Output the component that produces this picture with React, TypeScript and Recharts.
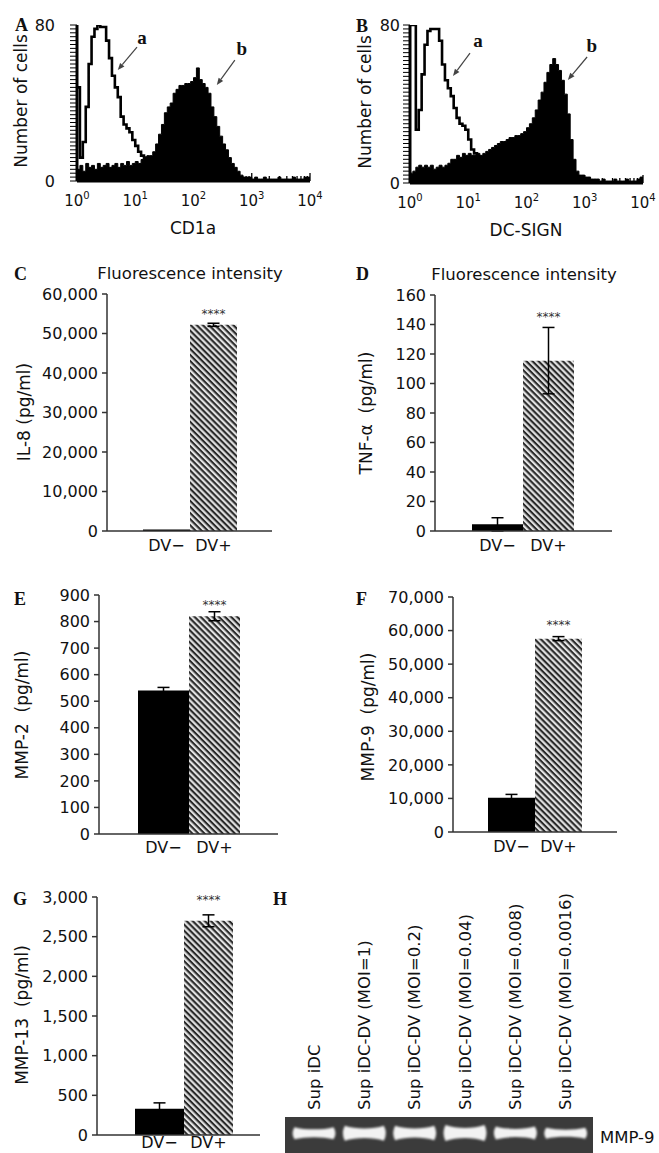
import React from 'react';
import {
  ComposedChart, BarChart, Bar, Cell, XAxis, YAxis, Area, Line, ErrorBar,
  ReferenceLine, ReferenceDot, CartesianGrid,
} from 'recharts';

const SANS = '"DejaVu Sans", Verdana, sans-serif';
const SERIF = '"Liberation Serif", "DejaVu Serif", serif';

// ---------- Histograms (A, B): channel = log10(fluorescence) ----------
const channelExp = [0, 0.05, 0.1, 0.15, 0.2, 0.25, 0.3, 0.35, 0.4, 0.45,
  0.5, 0.55, 0.6, 0.65, 0.7, 0.75, 0.8, 0.85, 0.9, 0.95,
  1, 1.05, 1.1, 1.15, 1.2, 1.25, 1.3, 1.35, 1.4, 1.45,
  1.5, 1.55, 1.6, 1.65, 1.7, 1.75, 1.8, 1.85, 1.9, 1.95,
  2, 2.05, 2.1, 2.15, 2.2, 2.25, 2.3, 2.35, 2.4, 2.45,
  2.5, 2.55, 2.6, 2.65, 2.7, 2.75, 2.8, 2.85, 2.9, 2.95,
  3, 3.05, 3.1, 3.15, 3.2, 3.25, 3.3, 3.35, 3.4, 3.45,
  3.5, 3.55, 3.6, 3.65, 3.7, 3.75, 3.8, 3.85, 3.9, 3.95, 4];

const cd1aIsotype = [48, 12, 20, 38, 60, 74, 78, 80, 79, 79,
  72, 63, 54, 48, 43, 33, 29, 27, 25, 21,
  18, 15, 13, 12, 10, 8, 7, 5, 4, 3,
  2, 1, 0, 0, 0, 0, 0, 0, 0, 0,
  0, 0, 0, 0, 0, 0, 0, 0, 0, 0,
  0, 0, 0, 0, 0, 0, 0, 0, 0, 0,
  0, 0, 0, 0, 0, 0, 0, 0, 0, 0,
  0, 0, 0, 0, 0, 0, 0, 0, 0, 0, 0];

const cd1aStained = [6, 8, 5, 9, 7, 8, 6, 9, 7, 8,
  9, 7, 8, 9, 7, 9, 8, 10, 8, 9,
  10, 9, 11, 12, 13, 13, 15, 19, 24, 29,
  35, 38, 40, 45, 47, 49, 49, 50, 50, 51,
  53, 58, 52, 50, 48, 45, 38, 33, 28, 23,
  19, 16, 12, 9, 7, 5, 3, 2, 2, 2,
  1, 2, 1, 1, 2, 1, 1, 1, 1, 2,
  1, 1, 1, 1, 2, 1, 1, 1, 2, 2, 1];

const dcsignIsotype = [80, 80, 27, 37, 55, 70, 77, 78, 78, 78,
  72, 60, 52, 48, 44, 38, 33, 30, 29, 27,
  22, 17, 15, 13, 10, 8, 6, 4, 3, 2,
  1, 0, 0, 0, 0, 0, 0, 0, 0, 0,
  0, 0, 0, 0, 0, 0, 0, 0, 0, 0,
  0, 0, 0, 0, 0, 0, 0, 0, 0, 0,
  0, 0, 0, 0, 0, 0, 0, 0, 0, 0,
  0, 0, 0, 0, 0, 0, 0, 0, 0, 0, 0];

const dcsignStained = [5, 6, 8, 9, 8, 9, 8, 9, 7, 8,
  9, 8, 9, 10, 12, 12, 14, 13, 15, 14,
  15, 14, 14, 15, 14, 15, 16, 17, 18, 19,
  20, 21, 21, 22, 23, 23, 24, 24, 25, 26,
  28, 30, 33, 37, 42, 46, 51, 56, 60, 63,
  60, 57, 52, 45, 35, 22, 12, 6, 4, 4,
  3, 3, 2, 2, 2, 1, 2, 1, 1, 1,
  2, 1, 1, 1, 2, 1, 1, 1, 2, 3, 3];

const countTicks = [0, 2, 4, 6, 8, 10, 12, 14, 16, 18, 20, 22, 24, 26, 28, 30, 32, 34, 36, 38, 40,
  42, 44, 46, 48, 50, 52, 54, 56, 58, 60, 62, 64, 66, 68, 70, 72, 74, 76, 78, 80];
const decadeExp = [0, 1, 2, 3, 4];
const minorLog = [0.301, 0.477, 0.602, 0.699, 0.778, 0.845, 0.903, 0.954];
const logTicks: number[] = [];
decadeExp.forEach((d) => {
  logTicks.push(d);
  if (d < 4) minorLog.forEach((m) => logTicks.push(d + m));
});

const cd1aMarks = [
  { label: 'a', text: [1.116, 73.8], from: [1.03, 68.7], to: [0.70, 56.9] },
  { label: 'b', text: [2.83, 67.7], from: [2.71, 62], to: [2.40, 49.2] },
];
const dcsignMarks = [
  { label: 'a', text: [1.167, 71.9], from: [1.03, 65.8], to: [0.738, 54.2] },
  { label: 'b', text: [3.12, 69.4], from: [3.04, 63.8], to: [2.71, 52.2] },
];

// ---------- Bar panels (C–G) ----------
const groups = ['DV\u2212', 'DV+'];
const il8 = [400, 52200];
const il8Err = [0, 400];
const il8Ticks = [0, 10000, 20000, 30000, 40000, 50000, 60000];
const tnf = [4.5, 115.5];
const tnfErr = [4.5, 22.5];
const tnfTicks = [0, 20, 40, 60, 80, 100, 120, 140, 160];
const mmp2 = [540, 820];
const mmp2Err = [12, 17];
const mmp2Ticks = [0, 100, 200, 300, 400, 500, 600, 700, 800, 900];
const mmp9 = [10200, 57600];
const mmp9Err = [1000, 600];
const mmp9Ticks = [0, 10000, 20000, 30000, 40000, 50000, 60000, 70000];
const mmp13 = [330, 2700];
const mmp13Err = [75, 75];
const mmp13Ticks = [0, 500, 1000, 1500, 2000, 2500, 3000];
const barFills = ['#000000', 'url(#hatch)'];

// ---------- Gel (H) ----------
const laneLabels = ['Sup iDC', 'Sup iDC-DV (MOI=1)', 'Sup iDC-DV (MOI=0.2)', 'Sup iDC-DV (MOI=0.04)',
  'Sup iDC-DV (MOI=0.008)', 'Sup iDC-DV (MOI=0.0016)'];
const bandLow = [15.5, 14.5, 15, 14.5, 15.5, 16];
const bandHigh = [24, 25, 25, 25.5, 24.5, 23.5];

// ---------- helpers ----------
const LogTick = (props: any) => {
  const { x, y, payload } = props;
  const v = payload.value;
  const major = Math.abs(v - Math.round(v)) < 1e-6;
  return (
    <g>
      <line x1={x} x2={x} y1={y} y2={y - (major ? 8 : 5)} stroke="#000" strokeWidth={1.3} />
      {major ? (
        <text x={x} y={y + 25} textAnchor="middle" fontSize={15} fontFamily={SANS} fill="#111">
          10<tspan dy={-7} fontSize={10}>{Math.round(v)}</tspan>
        </text>
      ) : null}
    </g>
  );
};

const CountTick = (props: any) => {
  const { x, y, payload } = props;
  if (payload.value !== 0 && payload.value !== 80) return <g />;
  return (
    <text x={x} y={y} textAnchor="end" dominantBaseline="central" fontSize={16} fontFamily={SANS} fill="#111">
      {payload.value}
    </text>
  );
};

const ArrowShape = (p: any) => {
  const { x1, y1, x2, y2 } = p;
  const ang = Math.atan2(y2 - y1, x2 - x1);
  const L = 7, W = 2.8;
  const bx = x2 - L * Math.cos(ang);
  const by = y2 - L * Math.sin(ang);
  const px = -Math.sin(ang) * W;
  const py = Math.cos(ang) * W;
  return (
    <g>
      <line x1={x1} y1={y1} x2={bx} y2={by} stroke="#444" strokeWidth={1.2} />
      <polygon points={`${x2},${y2} ${bx + px},${by + py} ${bx - px},${by - py}`} fill="#444" />
    </g>
  );
};

function Histogram({ box, plot, series, iso, marks, yMargin }: any) {
  const data = channelExp.map((e, i) => ({ e, a: iso[i], b: series[i] }));
  const xH = 20;
  const margin = { top: plot.t - box.y, left: 0, right: box.x + box.w - plot.r, bottom: box.y + box.h - plot.b - xH };
  return (
    <div style={{ position: 'absolute', left: box.x, top: box.y }}>
      <ComposedChart width={box.w} height={box.h} data={data} margin={margin}>
        <XAxis dataKey="e" type="number" domain={[0, 4]} ticks={logTicks} interval={0} allowDataOverflow
          height={xH} tickLine={false} tickSize={0} tickMargin={0}
          axisLine={{ stroke: '#000', strokeWidth: 3 }} tick={<LogTick />} />
        <YAxis type="number" domain={[0, 80]} ticks={countTicks} interval={0} allowDataOverflow
          width={plot.l - box.x} tickSize={7} tickMargin={yMargin}
          axisLine={{ stroke: '#000', strokeWidth: 3 }} tickLine={{ stroke: '#000', strokeWidth: 1 }}
          tick={<CountTick />} />
        <Area dataKey="b" type="stepAfter" stroke="#000" strokeWidth={1} fill="#000" fillOpacity={1}
          isAnimationActive={false} dot={false} activeDot={false} />
        <Line dataKey="a" type="stepAfter" stroke="#000" strokeWidth={2.6} dot={false} activeDot={false}
          isAnimationActive={false} />
        {marks.map((m: any) => (
          <ReferenceLine key={'l' + m.label}
            segment={[{ x: m.from[0], y: m.from[1] }, { x: m.to[0], y: m.to[1] }]}
            shape={ArrowShape} />
        ))}
        {marks.map((m: any) => (
          <ReferenceDot key={'t' + m.label} x={m.text[0]} y={m.text[1]} r={0}
            shape={(p: any) => (
              <text x={p.cx} y={p.cy} textAnchor="middle" dominantBaseline="central" fontSize={19}
                fontWeight="bold" fontFamily={SERIF} fill="#111">{m.label}</text>
            )} />
        ))}
      </ComposedChart>
    </div>
  );
}

const axisStyle = { stroke: '#333', strokeWidth: 1.5 };

function BarPanel({ box, plot, values, errs, ticks, pad, starGap, labelMargin }: any) {
  const data = groups.map((g, i) => ({ group: g, v: values[i], err: errs[i] }));
  const catH = 16;
  const xH = 1 + catH;
  const margin = { top: plot.t - box.y, left: 0, right: box.x + box.w - plot.r, bottom: box.y + box.h - plot.b - xH };
  return (
    <div style={{ position: 'absolute', left: box.x, top: box.y }}>
      <BarChart width={box.w} height={box.h} data={data} margin={margin} barCategoryGap={0} barGap={0}>
        <XAxis xAxisId="b" dataKey="group" type="category" height={catH}
          padding={{ left: pad[0], right: pad[1] }} axisLine={false} tickLine={false} tickSize={0}
          tickMargin={labelMargin} interval={0}
          tick={{ fontSize: 16, fill: '#111', fontFamily: SANS }} />
        <XAxis xAxisId="a" type="number" domain={[0, 1]} ticks={[0, 1]} tick={false} tickSize={6}
          height={1} axisLine={axisStyle} tickLine={axisStyle} allowDataOverflow />
        <YAxis type="number" domain={[0, ticks[ticks.length - 1]]} ticks={ticks} interval={0}
          allowDataOverflow width={plot.l - box.x} tickSize={5} tickMargin={4}
          axisLine={axisStyle} tickLine={axisStyle}
          tickFormatter={(v: number) => v.toLocaleString('en-US')}
          tick={{ fontSize: 16, fill: '#111', fontFamily: SANS }} />
        <Bar xAxisId="b" dataKey="v" isAnimationActive={false}>
          {data.map((d, i) => <Cell key={d.group} fill={barFills[i]} />)}
          <ErrorBar dataKey="err" width={6} stroke="#000" strokeWidth={1.5} direction="y" />
        </Bar>
        <ReferenceDot xAxisId="b" x={groups[1]} y={values[1] + errs[1]} r={0}
          shape={(p: any) => (
            <text x={p.cx} y={p.cy - starGap + 7} textAnchor="middle" fontSize={12} fill="#333"
              fontFamily={SANS}>****</text>
          )} />
      </BarChart>
    </div>
  );
}

const LaneTick = (props: any) => {
  const { x, y, payload } = props;
  return (
    <text x={x} y={y} transform={`rotate(-90 ${x} ${y})`} textAnchor="start" dominantBaseline="central"
      fontSize={16.5} fontFamily={SANS} fill="#111">{payload.value}</text>
  );
};

const GelBand = (p: any) => {
  const { x, y, width: w, height: h } = p;
  if (!isFinite(x) || !isFinite(y)) return <g />;
  const f = h * 0.22;
  const d = `M ${x + 3} ${y - f} C ${x + w * 0.3} ${y + f * 0.6} ${x + w * 0.7} ${y + f * 0.6} ${x + w - 3} ${y - f}
    Q ${x + w + 1} ${y + h / 2} ${x + w - 3} ${y + h + f}
    C ${x + w * 0.7} ${y + h - f * 0.6} ${x + w * 0.3} ${y + h - f * 0.6} ${x + 3} ${y + h + f}
    Q ${x - 1} ${y + h / 2} ${x + 3} ${y - f} Z`;
  return <path d={d} fill="#f2f2f2" filter="url(#soft)" />;
};

function Gel() {
  const box = { x: 270, y: 880, w: 389, h: 273 };
  const plot = { l: 285, r: 593, t: 1117, b: 1153 };
  const data = laneLabels.map((l, i) => ({ lane: l, band: [bandLow[i], bandHigh[i]] }));
  const xH = 30;
  const margin = { top: plot.t - box.y - xH, left: plot.l - box.x, right: box.x + box.w - plot.r, bottom: box.y + box.h - plot.b };
  return (
    <div style={{ position: 'absolute', left: box.x, top: box.y }}>
      <BarChart width={box.w} height={box.h} data={data} margin={margin} barCategoryGap="5%">
        <CartesianGrid horizontal={false} vertical={false} fill="#3b3b3b" />
        <XAxis dataKey="lane" type="category" orientation="top" height={xH} axisLine={false} tickLine={false}
          tickSize={0} tickMargin={7} interval={0} padding={{ left: 4, right: 2 }} tick={<LaneTick />} />
        <YAxis hide width={0} type="number" domain={[0, 36]} />
        <Bar dataKey="band" isAnimationActive={false} shape={GelBand} />
      </BarChart>
    </div>
  );
}

const panelLetters = [
  { t: 'A', x: 15, y: 31 }, { t: 'B', x: 356, y: 32 },
  { t: 'C', x: 14, y: 280 }, { t: 'D', x: 356, y: 280 },
  { t: 'E', x: 14, y: 605 }, { t: 'F', x: 356, y: 605 },
  { t: 'G', x: 13, y: 905 }, { t: 'H', x: 273, y: 905 },
];
const yTitles = [
  { t: 'Number of cells', x: 21, y: 101, s: 17 },
  { t: 'Number of cells', x: 365, y: 102, s: 17 },
  { t: 'IL-8 (pg/ml)', x: 24, y: 412, s: 17 },
  { t: 'TNF-\u03b1  (pg/ml)', x: 366, y: 413, s: 17 },
  { t: 'MMP-2  (pg/ml)', x: 22, y: 715, s: 17 },
  { t: 'MMP-9  (pg/ml)', x: 368, y: 717, s: 17 },
  { t: 'MMP-13  (pg/ml)', x: 22, y: 1015, s: 17 },
];
const otherTexts = [
  { t: 'CD1a', x: 193, y: 228, a: 'middle', s: 17 },
  { t: 'DC-SIGN', x: 526, y: 230, a: 'middle', s: 17 },
  { t: 'Fluorescence intensity', x: 190, y: 273, a: 'middle', s: 16.5 },
  { t: 'Fluorescence intensity', x: 524, y: 274, a: 'middle', s: 16.5 },
  { t: 'MMP-9', x: 600, y: 1137, a: 'start', s: 16.5 },
];

export default function App() {
  return (
    <div style={{ position: 'absolute', left: 0, top: 0, width: 659, height: 1153, overflow: 'hidden', background: '#fff' }}>
      <svg width={0} height={0} style={{ position: 'absolute' }}>
        <defs>
          <pattern id="hatch" width={4.3} height={4.3} patternUnits="userSpaceOnUse" patternTransform="rotate(45)">
            <rect width={4.3} height={4.3} fill="#e2e2e2" />
            <rect width={4.3} height={2.1} fill="#2a2a2a" />
          </pattern>
          <filter id="soft" x="-20%" y="-60%" width="140%" height="220%">
            <feGaussianBlur stdDeviation={0.8} />
          </filter>
        </defs>
      </svg>

      <Histogram box={{ x: 0, y: 0, w: 330, h: 215 }} plot={{ l: 77, r: 310, t: 25, b: 181 }}
        series={cd1aStained} iso={cd1aIsotype} marks={cd1aMarks} yMargin={15} />
      <Histogram box={{ x: 330, y: 0, w: 329, h: 215 }} plot={{ l: 410, r: 643, t: 25, b: 183 }}
        series={dcsignStained} iso={dcsignIsotype} marks={dcsignMarks} yMargin={3} />

      <BarPanel box={{ x: 0, y: 285, w: 330, h: 275 }} plot={{ l: 107, r: 272, t: 294, b: 531 }}
        values={il8} errs={il8Err} ticks={il8Ticks} pad={[36, 35]} starGap={12} labelMargin={8} />
      <BarPanel box={{ x: 330, y: 285, w: 329, h: 275 }} plot={{ l: 435, r: 612, t: 295, b: 531 }}
        values={tnf} errs={tnfErr} ticks={tnfTicks} pad={[37, 38]} starGap={13.5} labelMargin={8} />
      <BarPanel box={{ x: 0, y: 585, w: 330, h: 285 }} plot={{ l: 99, r: 278, t: 595, b: 834 }}
        values={mmp2} errs={mmp2Err} ticks={mmp2Ticks} pad={[39, 38]} starGap={10} labelMargin={7} />
      <BarPanel box={{ x: 330, y: 585, w: 329, h: 285 }} plot={{ l: 453, r: 617, t: 597, b: 832 }}
        values={mmp9} errs={mmp9Err} ticks={mmp9Ticks} pad={[35, 35]} starGap={14.5} labelMargin={8} />
      <BarPanel box={{ x: 0, y: 885, w: 268, h: 268 }} plot={{ l: 97, r: 260, t: 897, b: 1135 }}
        values={mmp13} errs={mmp13Err} ticks={mmp13Ticks} pad={[38, 27]} starGap={18} labelMargin={1} />

      <Gel />

      <svg width={659} height={1153} style={{ position: 'absolute', left: 0, top: 0, pointerEvents: 'none' }}>
        {panelLetters.map((p) => (
          <text key={p.t} x={p.x} y={p.y} fontSize={18} fontWeight="bold" fontFamily={SERIF} fill="#111">{p.t}</text>
        ))}
        {yTitles.map((p, i) => (
          <text key={'y' + i} x={p.x} y={p.y} transform={`rotate(-90 ${p.x} ${p.y})`} textAnchor="middle"
            dominantBaseline="central" fontSize={p.s} fontFamily={SANS} fill="#111" style={{ whiteSpace: 'pre' }}>{p.t}</text>
        ))}
        {otherTexts.map((p, i) => (
          <text key={'o' + i} x={p.x} y={p.y} textAnchor={p.a as any} dominantBaseline="central"
            fontSize={p.s} fontFamily={SANS} fill="#111">{p.t}</text>
        ))}
      </svg>
    </div>
  );
}
